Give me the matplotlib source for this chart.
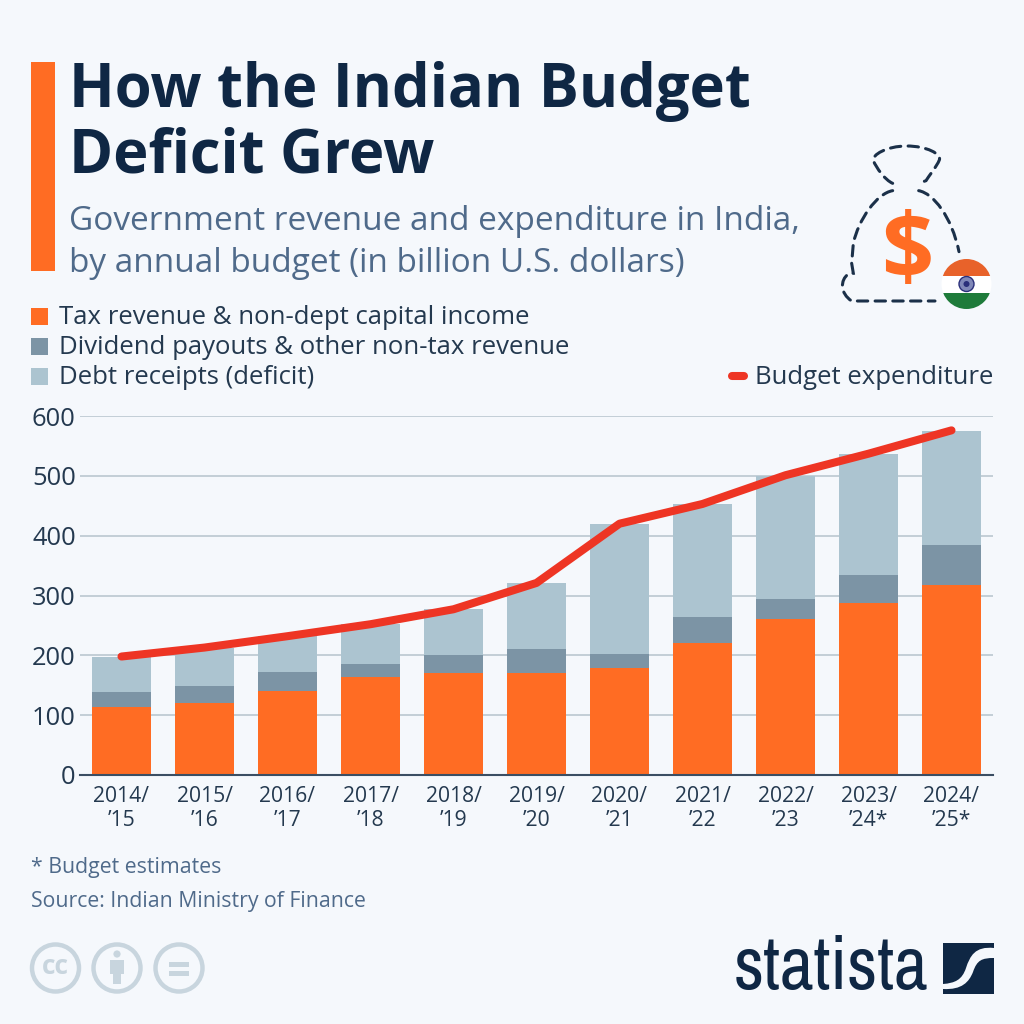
import matplotlib
matplotlib.use("Agg")
import matplotlib.pyplot as plt
from matplotlib.patches import Rectangle, Circle, PathPatch
from matplotlib.path import Path
from matplotlib import font_manager as fm

years = ["2014/\n’15", "2015/\n’16", "2016/\n’17", "2017/\n’18", "2018/\n’19", "2019/\n’20",
         "2020/\n’21", "2021/\n’22", "2022/\n’23", "2023/\n’24*", "2024/\n’25*"]
tax = [113, 120, 140, 163, 171, 171, 178, 221, 260, 287, 318]
dividend = [25, 29, 32, 22, 29, 39, 25, 43, 34, 47, 66]
debt = [60, 64, 60, 68, 77, 111, 217, 189, 206, 203, 191]
expenditure = [198, 213, 232, 252, 277, 321, 420, 453, 501, 537, 576]
y_ticks = [0, 100, 200, 300, 400, 500, 600]

BG = "#F5F8FC"; DARK = "#0F2744"; SUB = "#4F6A8A"; TICK = "#24394F"
ORANGE = "#FF6C23"; MID = "#7C94A5"; LIGHT = "#ACC4D0"; RED = "#EE3524"; ICON = "#C8D5DE"
plt.rcParams["font.family"] = ["Open Sans", "DejaVu Sans"]

fig = plt.figure(figsize=(10.24, 10.24), dpi=100, facecolor=BG)
def axpx(l, t, r, b, **k):
    return fig.add_axes([l/1024, 1-b/1024, (r-l)/1024, (b-t)/1024], **k)

ax = axpx(80, 416, 993, 775, facecolor="none")
xs = list(range(len(tax)))
bottom2 = [a+b for a, b in zip(tax, dividend)]
ax.bar(xs, tax, 0.72, color=ORANGE, zorder=2)
ax.bar(xs, dividend, 0.72, bottom=tax, color=MID, zorder=2)
ax.bar(xs, debt, 0.72, bottom=bottom2, color=LIGHT, zorder=2)
ax.plot(xs, expenditure, color=RED, lw=5.8, solid_capstyle="round", solid_joinstyle="round", zorder=3, clip_on=False)
ax.set_xlim(-0.5, 10.5); ax.set_ylim(0, 600)
ax.set_yticks(y_ticks); ax.set_xticks(xs, years)
ax.grid(axis="y", color="#B6C3CD", lw=1.1, zorder=0)
ax.set_axisbelow(True)
for s in ["top", "left", "right"]:
    ax.spines[s].set_visible(False)
ax.spines["bottom"].set_color("#3B4E63"); ax.spines["bottom"].set_linewidth(1.5)
ax.spines["bottom"].set_zorder(4)
ax.tick_params(axis="y", length=0, labelsize=18.4, labelcolor=TICK, pad=3)
ax.tick_params(axis="x", length=0, labelsize=15.2, labelcolor=TICK, pad=8)
for t in ax.get_xticklabels():
    t.set_linespacing(1.15)

o = axpx(0, 0, 1024, 1024, facecolor="none", zorder=5)
o.set_xlim(0, 1024); o.set_ylim(1024, 0); o.axis("off")

o.add_patch(Rectangle((31, 62), 24, 209, color=ORANGE, lw=0))
o.text(69, 91, "How the Indian Budget", fontsize=43, fontweight="bold", color=DARK, va="center")
o.text(69, 157, "Deficit Grew", fontsize=43, fontweight="bold", color=DARK, va="center")
o.text(69, 221, "Government revenue and expenditure in India,", fontsize=24, color=SUB, va="center")
o.text(69, 263, "by annual budget (in billion U.S. dollars)", fontsize=24, color=SUB, va="center")

legend_labels = ["Tax revenue & non-dept capital income", "Dividend payouts & other non-tax revenue", "Debt receipts (deficit)"]
for lab, col, y in zip(legend_labels, [ORANGE, MID, LIGHT], [316, 346, 376]):
    o.add_patch(Rectangle((31, y-8.5), 17, 17, color=col, lw=0))
    o.text(59, y+2, lab, fontsize=18.5, color=TICK, va="center")
o.plot([732, 744], [376, 376], color=RED, lw=5.8, solid_capstyle="round")
o.text(993, 378, "Budget expenditure", fontsize=18.5, color=TICK, va="center", ha="right")

o.text(31, 868, "* Budget estimates", fontsize=15.3, color=SUB, va="center")
o.text(31, 902, "Source: Indian Ministry of Finance", fontsize=15.3, color=SUB, va="center")

# money bag
def z(x, y):
    return (820+x/3, 130+y/3)
C4 = Path.CURVE4; M = Path.MOVETO; L = Path.LINETO
neck = [(218,160),(195,150),(170,115),(160,92),(155,75),(200,48),(260,48),(320,48),(365,72),(358,90),(350,110),(325,140),(318,152),(296,160)]
nc = [M,C4,C4,C4,C4,C4,C4,C4,C4,C4,C4,C4,C4,L]
bag = [(218,182),(170,190),(115,270),(100,340),(95,400),(100,430),(85,432),(60,450),(60,490),(95,513),(345,513)]
bc = [M,C4,C4,C4,L,L,L,C4,C4,C4,L]
body_r = [(296,182),(340,190),(395,260),(417,365)]
rc = [M,C4,C4,C4]
for pts, codes in [(neck,nc),(bag,bc),(body_r,rc)]:
    o.add_patch(PathPatch(Path([z(*p) for p in pts], codes), fill=False, ec="#1B3049", lw=2.2,
                          ls=(0,(3.4,2.4)), capstyle="round"))
o.text(907, 255, "$", fontsize=66, fontweight="bold", color=ORANGE, ha="center", va="center")

# flag
fc = Circle((966.5, 284), 25, transform=o.transData)
for top, h, col in [(259, 16.5, "#E8622A"), (275.5, 17, "white"), (292.5, 17, "#1E7B3A")]:
    r = Rectangle((940, top), 54, h, color=col, lw=0)
    o.add_patch(r); r.set_clip_path(fc)
o.add_patch(Circle((966.5, 284), 7.5, fc="#8088B8", ec="#2A2F7A", lw=1))
o.add_patch(Circle((966.5, 284), 3, fc="#2A2F7A", lw=0))

# CC icons
for cx in [55.5, 117, 179]:
    o.add_patch(Circle((cx, 968), 23.5, fill=False, ec=ICON, lw=3.2))
o.text(55.5, 967, "cc", fontsize=19, fontweight="bold", color=ICON, ha="center", va="center")
o.add_patch(Circle((117, 954), 3.6, color=ICON, lw=0))
o.add_patch(Rectangle((110, 960), 14, 14, color=ICON, lw=0))
o.add_patch(Rectangle((113, 972), 8, 12, color=ICON, lw=0))
o.add_patch(Rectangle((169, 962), 20, 4.5, color=ICON, lw=0))
o.add_patch(Rectangle((169, 971), 20, 4.5, color=ICON, lw=0))

# statista logo
names = sorted({f.name for f in fm.fontManager.ttflist})
narrow = [n for n in names if "Narrow" in n or "Condensed" in n]
fam = narrow[0] if narrow else "Roboto"
o.text(928, 968, "statista", family=fam, fontsize=53 if narrow else 41, fontweight="bold", color=DARK, ha="right", va="center")
o.add_patch(Rectangle((943, 943), 50.5, 50.5, color=DARK, lw=0))
sw = [(994,948),(975,946),(970,956),(966,968),(962,980),(955,983),(943,984),
      (943,989),(962,990),(969,982),(973,972),(977,960),(982,958),(994,958),(994,948)]
cs = [M,C4,C4,C4,C4,C4,C4,L,C4,C4,C4,C4,C4,C4,L]
o.add_patch(PathPatch(Path(sw, cs), fc=BG, ec="none"))

fig.savefig("out.png", dpi=100, facecolor=BG)
